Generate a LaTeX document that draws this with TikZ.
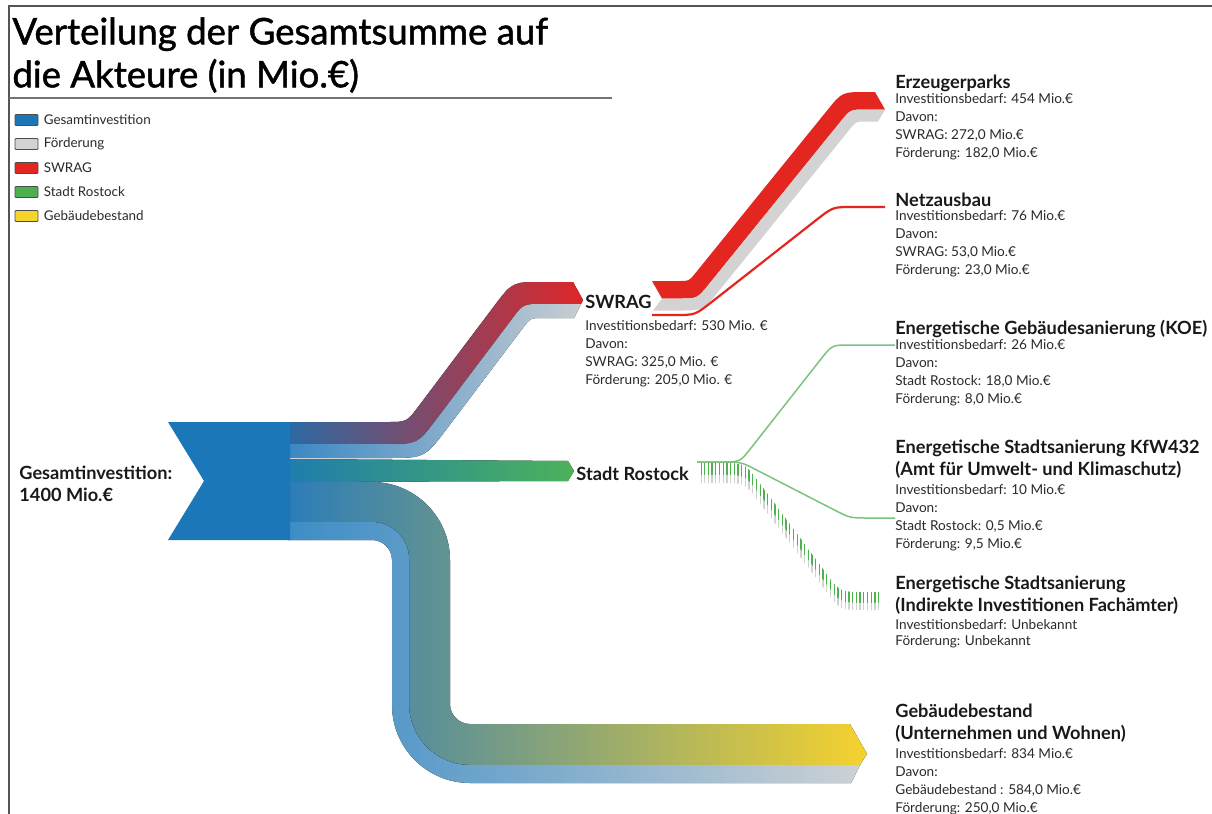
\documentclass[tikz,border=0pt]{standalone}
\usepackage{fontspec}
\setmainfont{Lato}
\newfontfamily\titlefont[RawFeature={embolden=1.3}]{Lato}
\usetikzlibrary{positioning}

\definecolor{gesamtblue}{HTML}{1B77B7}
\definecolor{foerdergray}{HTML}{D3D3D3}
\definecolor{swragred}{HTML}{E3261F}
\definecolor{stadtgreen}{HTML}{4CAF50}
\definecolor{gebyellow}{HTML}{F6D42C}
\definecolor{linegreen}{HTML}{7CC47E}
\definecolor{hatchgreen}{HTML}{4DB34D}
\definecolor{framegray}{HTML}{555555}
\definecolor{infotext}{HTML}{2A2A2A}

\begin{document}
\begin{tikzpicture}[
    x=0.5pt, y=-0.5pt,
    title/.style={font=\titlefont\fontsize{18.3}{21.5}\selectfont, align=left, inner sep=0pt},
    head/.style={font=\fontsize{9.1}{10.8}\selectfont\bfseries, align=left, inner sep=0pt, text=black!90},
    info/.style={font=\fontsize{6.8}{8.9}\selectfont, align=left, inner sep=0pt, text=infotext},
    legbox/.style={rectangle, draw=black!70, line width=0.4pt, minimum width=11.5pt,
                   minimum height=5.5pt, inner sep=0pt, rounded corners=0.5pt},
    legtext/.style={font=\fontsize{6.7}{8}\selectfont, inner sep=0pt, text=infotext},
    thinflow/.style={draw=linegreen, line width=0.75pt}
]
\useasboundingbox (0,0) rectangle (1212,814);
\fill[white] (0,0) rectangle (1212,814);

% Frame and title
\draw[framegray, line width=0.6pt] (9,814) -- (9,6) -- (1212,6);
\node[title, anchor=north west] (title) at (12,17) {Verteilung der Gesamtsumme auf\\die Akteure (in Mio.€)};
\draw[black!55, line width=0.7pt] (9,98) -- (612,98);

% Legend
\foreach \c/\t [count=\i] in {gesamtblue/Gesamtinvestition, foerdergray/Förderung,
    swragred/SWRAG, stadtgreen/Stadt Rostock, gebyellow/Gebäudebestand} {
  \node[legbox, fill=\c] (legbox\i) at (26.5,96+24*\i) {};
  \node[legtext, right=2.5pt of legbox\i] (legtext\i) {\t};
}

% Flow to SWRAG
\fill[left color={rgb,255:red,44;green,105;blue,163},
      right color={rgb,255:red,222;green,38;blue,40}]
  (288,422) -- (386.8,422) .. controls (406.8,422) .. (418.8,406.0) -- (494.2,306.0)
  .. controls (512.3,282) .. (542.3,282) -- (573,282) -- (583,300) -- (581,304) -- (542.3,304)
  .. controls (523.3,304) .. (511.9,319.2) -- (436.5,419.2) .. controls (417.8,444) .. (386.8,444)
  -- (288,444) -- cycle;
\fill[left color={rgb,255:red,58;green,136;blue,196}, right color={rgb,255:red,200;green,205;blue,210}]
  (288,444) -- (386.8,444) .. controls (417.8,444) .. (436.5,419.2) -- (511.9,319.2)
  .. controls (523.3,304) .. (542.3,304) -- (581,304) -- (574,318) -- (542.3,318)
  .. controls (530.3,318) .. (523.1,327.6) -- (447.7,427.6) .. controls (424.8,458) .. (386.8,458)
  -- (288,458) -- cycle;

% Flow to Stadt Rostock
\fill[left color={rgb,255:red,31;green,125;blue,174}, right color={rgb,255:red,76;green,178;blue,90}]
  (288,459) -- (568,461) -- (574,471) -- (568,481) -- (288,482) -- cycle;

% Flow to Gebaeudebestand
\fill[left color={rgb,255:red,43;green,124;blue,184}, right color={rgb,255:red,245;green,210;blue,46}]
  (288,482) -- (372,482) .. controls (415,482) and (450,517) .. (450,560) -- (450,704)
  .. controls (450,715) and (459,724) .. (470,724) -- (850,724) -- (867,754) -- (860,765)
  -- (470,765) .. controls (436.3,765) and (409,737.7) .. (409,704) -- (409,559)
  .. controls (409,538.6) and (392.4,522) .. (372,522) -- (288,522) -- cycle;
\fill[left color={rgb,255:red,61;green,141;blue,198}, right color={rgb,255:red,205;green,209;blue,213}]
  (288,522) -- (372,522) .. controls (392.4,522) and (409,538.6) .. (409,559) -- (409,704)
  .. controls (409,737.7) and (436.3,765) .. (470,765) -- (860,765) -- (851,783)
  -- (470,783) .. controls (427,783) and (392,748) .. (392,705) -- (392,560)
  .. controls (392,549) and (383,540) .. (372,540) -- (288,540) -- cycle;

% Source
\fill[gesamtblue] (168,422) -- (290,422) -- (290,540) -- (168,540) -- (204,481) -- cycle;

% SWRAG to Erzeugerparks and Netzausbau
\fill[swragred] (662,298.5) -- (652,281) -- (679.5,281) .. controls (689,281) .. (695.0,273.6)
  -- (827.0,110.6) .. controls (842,92) .. (865.9,92) -- (875,92) -- (885,109.5) -- (865.8,109.5)
  .. controls (850.3,109.5) .. (840.6,121.5) -- (708.6,284.6) .. controls (697.3,298.5) .. (679.4,298.5)
  -- cycle;
\fill[foerdergray] (653,310.5) -- (662,298.5) -- (679.4,298.5) .. controls (697.3,298.5) .. (708.6,284.6)
  -- (840.6,121.5) .. controls (850.3,109.5) .. (865.8,109.5) -- (885,109.5) -- (878,121.5)
  -- (865.9,121.5) .. controls (856.1,121.5) .. (849.9,129.1) -- (717.9,292.2)
  .. controls (703.1,310.5) .. (679.5,310.5) -- cycle;
\draw[swragred, line width=1.1pt] (652,315) -- (675,315) .. controls (695,315) .. (710.8,302.7)
  -- (817.2,219.3) .. controls (833,207) .. (853,207) -- (885,207);

% Stadt Rostock to its measures
\draw[thinflow] (697,462) -- (722,462) .. controls (740,462) .. (751.1,447.9)
  -- (820.9,359.1) .. controls (832,345) .. (850,345) -- (895,345);
\draw[thinflow] (697,462) -- (723,462) .. controls (741,462) .. (757,470.2)
  -- (834,509.8) .. controls (850,518) .. (868,518) -- (895,518);
\begin{scope}
  \clip (701,463) -- (720,463) .. controls (745,463) .. (759.8,483.1) -- (825.2,571.9)
    .. controls (840,592) .. (865,592) -- (882,592) -- (882,603) -- (865,603)
    .. controls (840,603) .. (825.2,582.9) -- (759.8,495.1) .. controls (745,475) .. (720,475)
    -- (701,475) -- cycle;
  \foreach \x in {701,704.7,...,882}
    \draw[hatchgreen, line width=0.65pt] (\x,450) -- (\x,620);
\end{scope}
\begin{scope}
  \clip (701,475) -- (720,475) .. controls (745,475) .. (759.8,495.1) -- (825.2,582.9)
    .. controls (840,603) .. (865,603) -- (882,603) -- (882,610) -- (865,610)
    .. controls (840,610) .. (825.2,589.9) -- (759.8,503.1) .. controls (745,483) .. (720,483)
    -- (701,483) -- cycle;
  \foreach \x in {701,704.7,...,882}
    \draw[black!18, line width=0.65pt] (\x,450) -- (\x,620);
\end{scope}

% Labels
\node[head, anchor=north west] (gesamtLabel) at (19,466) {Gesamtinvestition:\\1400 Mio.€};
\node[head, anchor=base west] (swragHead) at (585,308) {SWRAG};
\node[info, anchor=north west] (swragInfo) at (585,320.5)
  {Investitionsbedarf: 530 Mio. €\\Davon:\\SWRAG: 325,0 Mio. €\\Förderung: 205,0 Mio. €};
\node[head, anchor=base west] (stadtHead) at (576,480) {Stadt Rostock};

\node[head, anchor=base west] (erzHead) at (895,88) {Erzeugerparks};
\node[info, anchor=north west] (erzInfo) at (895,93.5)
  {Investitionsbedarf: 454 Mio.€\\Davon:\\SWRAG: 272,0 Mio.€\\Förderung: 182,0 Mio.€};
\node[head, anchor=base west] (netzHead) at (895,206) {Netzausbau};
\node[info, anchor=north west] (netzInfo) at (895,210.5)
  {Investitionsbedarf: 76 Mio.€\\Davon:\\SWRAG: 53,0 Mio.€\\Förderung: 23,0 Mio.€};
\node[head, anchor=base west] (koeHead) at (895,334) {Energetische Gebäudesanierung (KOE)};
\node[info, anchor=north west] (koeInfo) at (895,339.5)
  {Investitionsbedarf: 26 Mio.€\\Davon:\\Stadt Rostock: 18,0 Mio.€\\Förderung: 8,0 Mio.€};
\node[head, anchor=north west] (kfwHead) at (895,440)
  {Energetische Stadtsanierung KfW432\\(Amt für Umwelt- und Klimaschutz)};
\node[info, anchor=north west] (kfwInfo) at (895,484.5)
  {Investitionsbedarf: 10 Mio.€\\Davon:\\Stadt Rostock: 0,5 Mio.€\\Förderung: 9,5 Mio.€};
\node[head, anchor=north west] (indHead) at (895,576)
  {Energetische Stadtsanierung\\(Indirekte Investitionen Fachämter)};
\node[info, anchor=north west, font=\fontsize{6.8}{8}\selectfont] (indInfo) at (895,619.5)
  {Investitionsbedarf: Unbekannt\\Förderung: Unbekannt};
\node[head, anchor=north west] (gebHead) at (895,704)
  {Gebäudebestand\\(Unternehmen und Wohnen)};
\node[info, anchor=north west] (gebInfo) at (895,748.5)
  {Investitionsbedarf: 834 Mio.€\\Davon:\\Gebäudebestand : 584,0 Mio.€\\Förderung: 250,0 Mio.€};
\end{tikzpicture}
\end{document}
